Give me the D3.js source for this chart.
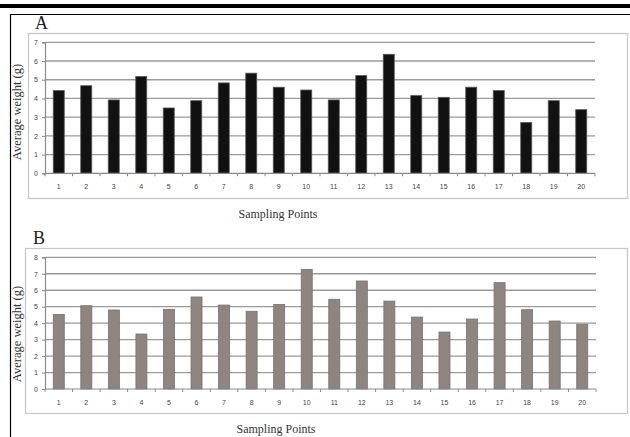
<!DOCTYPE html>
<html>
<head>
<meta charset="utf-8">
<script src="https://cdn.jsdelivr.net/npm/d3@7/dist/d3.min.js"></script>
<style>
  html, body { margin: 0; padding: 0; background: #fff; }
  svg { display: block; }
</style>
</head>
<body>
<svg id="fig" width="630" height="437"></svg>
<script>
// Sampling points 1..20
const samplingPoints = d3.range(1, 21).map(String);

// Average weight (g) per sampling point, panel A
const weightsA = [4.42, 4.68, 3.92, 5.17, 3.49, 3.88, 4.83, 5.35, 4.60, 4.45,
                  3.92, 5.22, 6.36, 4.15, 4.06, 4.60, 4.42, 2.71, 3.88, 3.40];

// Average weight (g) per sampling point, panel B
const weightsB = [4.53, 5.06, 4.80, 3.34, 4.84, 5.59, 5.10, 4.72, 5.14, 7.27,
                  5.45, 6.56, 5.34, 4.37, 3.46, 4.25, 6.46, 4.82, 4.13, 3.93];

const ticksA = [0, 1, 2, 3, 4, 5, 6, 7];
const ticksB = [0, 1, 2, 3, 4, 5, 6, 7, 8];

const svg = d3.select("#fig");

// page rules: thick top bar, thin rule beneath it, left margin rule
svg.append("rect").attr("x", 0).attr("y", 4).attr("width", 630).attr("height", 4).attr("fill", "#000");
svg.append("line").attr("x1", 10).attr("x2", 630).attr("y1", 14.5).attr("y2", 14.5)
  .attr("stroke", "#000").attr("stroke-width", 1.2);
svg.append("line").attr("x1", 10.5).attr("x2", 10.5).attr("y1", 14).attr("y2", 437)
  .attr("stroke", "#000").attr("stroke-width", 1.2);

function panel(opts) {
  const g = svg.append("g");

  // chart frame
  g.append("rect")
    .attr("x", opts.box[0]).attr("y", opts.box[1])
    .attr("width", opts.box[2] - opts.box[0]).attr("height", opts.box[3] - opts.box[1])
    .attr("fill", "none").attr("stroke", "#c8c8c8").attr("stroke-width", 1.3);

  // panel letter
  g.append("text")
    .attr("x", opts.letterPos[0]).attr("y", opts.letterPos[1])
    .attr("font-family", "'Liberation Serif', 'Times New Roman', serif")
    .attr("font-size", 18).attr("fill", "#222")
    .text(opts.letter);

  const x = d3.scaleBand().domain(samplingPoints)
    .range([opts.left, opts.right]).paddingInner(0.6).paddingOuter(0.3);
  const y = d3.scaleLinear().domain([0, d3.max(opts.ticks)])
    .range([opts.bottom, opts.top]);

  // horizontal gridlines
  g.append("g").selectAll("line").data(opts.ticks.filter(t => t > 0)).join("line")
    .attr("x1", opts.left).attr("x2", opts.right)
    .attr("y1", d => y(d)).attr("y2", d => y(d))
    .attr("stroke", "#9a9a9a").attr("stroke-width", 1.3);

  // bars
  g.append("g").selectAll("rect").data(opts.values).join("rect")
    .attr("x", (d, i) => x(samplingPoints[i]))
    .attr("y", d => y(d))
    .attr("width", x.bandwidth())
    .attr("height", d => y(0) - y(d))
    .attr("fill", opts.color)
    .attr("stroke", opts.edge).attr("stroke-width", 0.8);

  // y axis
  const yAxis = d3.axisLeft(y).tickValues(opts.ticks).tickFormat(d3.format("d"))
    .tickSize(3).tickPadding(4);
  const ya = g.append("g").attr("transform", `translate(${opts.left},0)`).call(yAxis);
  ya.select(".domain").attr("stroke", "#8a8a8a").attr("stroke-width", 1.2);
  ya.selectAll(".tick line").attr("stroke", "#8a8a8a");
  ya.selectAll("text").attr("font-family", "'Liberation Sans', Arial, sans-serif")
    .attr("font-size", 7).attr("fill", "#444");

  // x axis: category labels with separator ticks between categories
  const xa = g.append("g").attr("transform", `translate(0,${opts.bottom})`);
  xa.append("line").attr("x1", opts.left).attr("x2", opts.right)
    .attr("stroke", "#8a8a8a").attr("stroke-width", 1.2);
  const step = (opts.right - opts.left) / samplingPoints.length;
  xa.selectAll("line.sep").data(d3.range(samplingPoints.length + 1)).join("line")
    .attr("class", "sep")
    .attr("x1", i => opts.left + i * step).attr("x2", i => opts.left + i * step)
    .attr("y1", 0).attr("y2", 3)
    .attr("stroke", "#8a8a8a").attr("stroke-width", 1);
  xa.selectAll("text").data(samplingPoints).join("text")
    .attr("x", d => x(d) + x.bandwidth() / 2)
    .attr("y", 16)
    .attr("text-anchor", "middle")
    .attr("font-family", "'Liberation Sans', Arial, sans-serif")
    .attr("font-size", 7).attr("fill", "#444")
    .text(d => d);

  // axis titles
  g.append("text")
    .attr("transform", `translate(${opts.yTitle[0]},${opts.yTitle[1]}) rotate(-90)`)
    .attr("text-anchor", "middle")
    .attr("font-family", "'Liberation Serif', 'Times New Roman', serif")
    .attr("font-size", 12.5).attr("fill", "#333")
    .text("Average weight (g)");
  g.append("text")
    .attr("x", opts.xTitle[0]).attr("y", opts.xTitle[1])
    .attr("text-anchor", "middle")
    .attr("font-family", "'Liberation Serif', 'Times New Roman', serif")
    .attr("font-size", 12).attr("fill", "#333")
    .text("Sampling Points");
}

panel({
  letter: "A", letterPos: [35, 29],
  box: [28.5, 33.5, 627.5, 198.5],
  left: 45, right: 595, top: 42.3, bottom: 173.3,
  ticks: ticksA, values: weightsA,
  color: "#111111", edge: "#555555",
  yTitle: [21, 112], xTitle: [278, 218]
});

panel({
  letter: "B", letterPos: [33, 244],
  box: [25.5, 248.5, 627.5, 413.5],
  left: 45, right: 596, top: 257.3, bottom: 389,
  ticks: ticksB, values: weightsB,
  color: "#8e8580", edge: "#7a716c",
  yTitle: [21, 334], xTitle: [276, 433]
});
</script>
</body>
</html>
